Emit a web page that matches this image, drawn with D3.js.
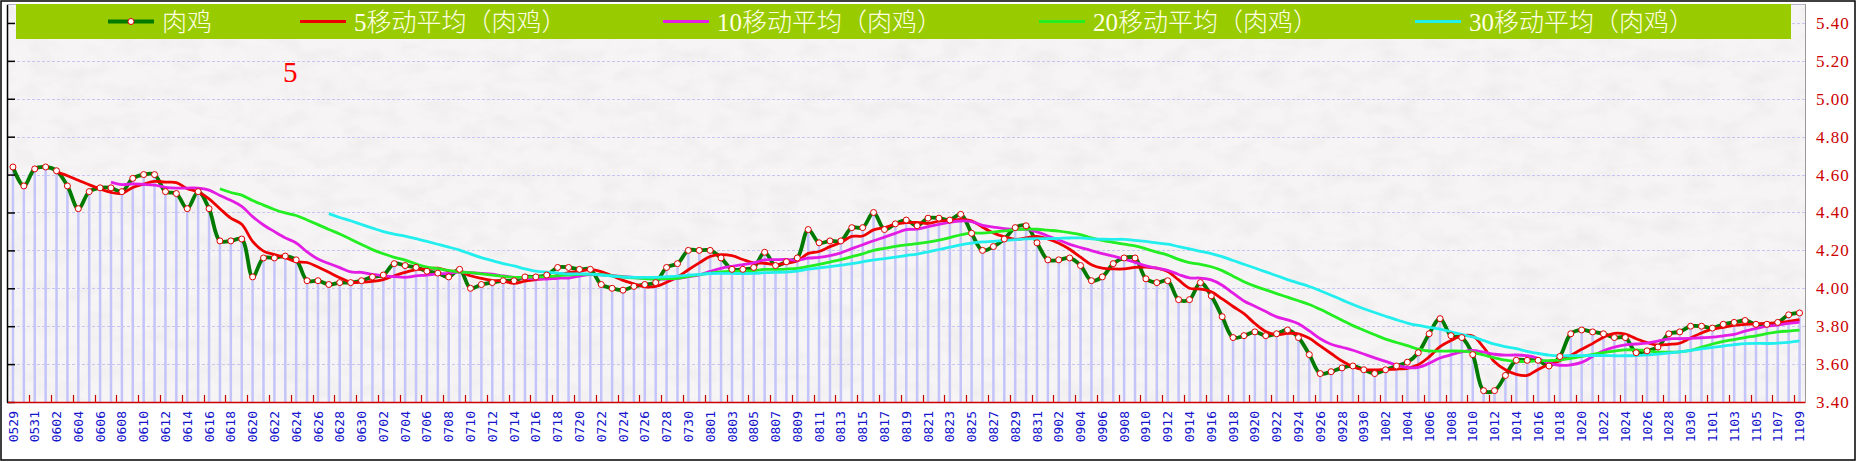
<!DOCTYPE html>
<html>
<head>
<meta charset="utf-8">
<title>肉鸡 移动平均</title>
<script src="https://d3js.org/d3.v7.min.js"></script>
<style>
  body { margin: 0; background: #fff; }
  svg { display: block; }
</style>
</head>
<body>
<div id="chart"></div>
<script>
///////////////////////////////////////////////////////////////////////////////
//////////////////// DATA /////////////////////////////////////////////////////
///////////////////////////////////////////////////////////////////////////////

// one category per calendar day, 0529 .. 1109
var days = [
  "0529","0530","0531",
  "0601","0602","0603","0604","0605","0606","0607","0608","0609","0610",
  "0611","0612","0613","0614","0615","0616","0617","0618","0619","0620",
  "0621","0622","0623","0624","0625","0626","0627","0628","0629","0630",
  "0701","0702","0703","0704","0705","0706","0707","0708","0709","0710",
  "0711","0712","0713","0714","0715","0716","0717","0718","0719","0720",
  "0721","0722","0723","0724","0725","0726","0727","0728","0729","0730","0731",
  "0801","0802","0803","0804","0805","0806","0807","0808","0809","0810",
  "0811","0812","0813","0814","0815","0816","0817","0818","0819","0820",
  "0821","0822","0823","0824","0825","0826","0827","0828","0829","0830","0831",
  "0901","0902","0903","0904","0905","0906","0907","0908","0909","0910",
  "0911","0912","0913","0914","0915","0916","0917","0918","0919","0920",
  "0921","0922","0923","0924","0925","0926","0927","0928","0929","0930",
  "1001","1002","1003","1004","1005","1006","1007","1008","1009","1010",
  "1011","1012","1013","1014","1015","1016","1017","1018","1019","1020",
  "1021","1022","1023","1024","1025","1026","1027","1028","1029","1030","1031",
  "1101","1102","1103","1104","1105","1106","1107","1108","1109"
];

// 肉鸡 daily price
var prices = [
  4.64, 4.54, 4.63,
  4.64, 4.62, 4.54, 4.42, 4.51, 4.53, 4.53, 4.51, 4.58, 4.60,
  4.60, 4.51, 4.50, 4.42, 4.51, 4.42, 4.25, 4.25, 4.26, 4.06,
  4.16, 4.16, 4.17, 4.15, 4.04, 4.04, 4.02, 4.03, 4.03, 4.04,
  4.06, 4.07, 4.13, 4.12, 4.11, 4.09, 4.08, 4.06, 4.10, 4.00,
  4.02, 4.03, 4.04, 4.04, 4.06, 4.06, 4.07, 4.11, 4.11, 4.10,
  4.10, 4.02, 4.00, 3.99, 4.01, 4.02, 4.03, 4.11, 4.13, 4.20, 4.20,
  4.20, 4.16, 4.10, 4.10, 4.11, 4.19, 4.12, 4.14, 4.16, 4.31,
  4.24, 4.25, 4.25, 4.32, 4.32, 4.40, 4.31, 4.34, 4.36, 4.33,
  4.37, 4.37, 4.36, 4.39, 4.29, 4.20, 4.22, 4.26, 4.32, 4.33, 4.24,
  4.15, 4.15, 4.16, 4.12, 4.04, 4.06, 4.13, 4.16, 4.16, 4.05,
  4.03, 4.04, 3.94, 3.94, 4.03, 3.96, 3.85, 3.74, 3.75, 3.77,
  3.75, 3.76, 3.78, 3.74, 3.65, 3.55, 3.56, 3.58, 3.59, 3.57,
  3.55, 3.57, 3.59, 3.61, 3.66, 3.76, 3.84, 3.75, 3.74, 3.65,
  3.46, 3.46, 3.54, 3.62, 3.62, 3.62, 3.59, 3.64, 3.76, 3.78,
  3.77, 3.76, 3.74, 3.74, 3.66, 3.67, 3.69, 3.76, 3.77, 3.80, 3.80,
  3.79, 3.81, 3.82, 3.83, 3.81, 3.81, 3.82, 3.86, 3.87
];

var maWindows = [5, 10, 20, 30];
var maColors  = ["#ee0000", "#e31de3", "#22ee22", "#22eeee"];
var legendLabels = ["肉鸡", "5移动平均（肉鸡）", "10移动平均（肉鸡）", "20移动平均（肉鸡）", "30移动平均（肉鸡）"];
var yTicks = [3.40, 3.60, 3.80, 4.00, 4.20, 4.40, 4.60, 4.80, 5.00, 5.20, 5.40];


///////////////////////////////////////////////////////////////////////////////
//////////////////// CONFIGS //////////////////////////////////////////////////
///////////////////////////////////////////////////////////////////////////////

var width = 1857, height = 462;
var plot = { left: 7, right: 1805, top: 4, bottom: 402 };
var legendX = [108, 300, 663, 1039, 1415];   // left end of each legend swatch

var svg = d3.select("#chart").append("svg")
    .attr("width", width)
    .attr("height", height);

var x = d3.scaleBand()
    .domain(days)
    .range([plot.left + 0.5, plot.right])
    .padding(0);

var y = d3.scaleLinear()
    .domain([3.4, 5.5])
    .range([plot.bottom, plot.top]);

function cx(d) { return x(d) + x.bandwidth() / 2; }

// rolling mean of the price series, null until the window is full
function movingAverage(values, n) {
  return values.map(function(v, i) {
    return i < n - 1 ? null : d3.mean(values.slice(i - n + 1, i + 1));
  });
}

var series = days.map(function(d, i) { return { day: d, value: prices[i] }; });


///////////////////////////////////////////////////////////////////////////////
//////////////////// BACKGROUND + GRID ////////////////////////////////////////
///////////////////////////////////////////////////////////////////////////////

// faint paper grain for the plot area
var defs = svg.append("defs");
var grain = defs.append("filter")
    .attr("id", "paper")
    .attr("x", 0).attr("y", 0).attr("width", "100%").attr("height", "100%");
grain.append("feTurbulence")
    .attr("type", "fractalNoise")
    .attr("baseFrequency", "0.035 0.06")
    .attr("numOctaves", 3)
    .attr("seed", 7);
grain.append("feColorMatrix")
    .attr("values", "0 0 0 0 0.55  0 0 0 0 0.53  0 0 0 0 0.53  0 0 0 -1.6 0.95");

svg.append("rect")
    .attr("x", 0).attr("y", 0)
    .attr("width", width).attr("height", height)
    .attr("fill", "#ffffff");

svg.append("rect")
    .attr("x", plot.left).attr("y", plot.top)
    .attr("width", plot.right - plot.left)
    .attr("height", plot.bottom - plot.top)
    .attr("fill", "#f6f4f4");

svg.append("rect")
    .attr("x", plot.left).attr("y", plot.top)
    .attr("width", plot.right - plot.left)
    .attr("height", plot.bottom - plot.top)
    .attr("filter", "url(#paper)")
    .attr("opacity", 0.18);

svg.append("g")
    .attr("class", "grid")
  .selectAll("line")
  .data(yTicks.slice(1))
  .enter().append("line")
    .attr("x1", plot.left)
    .attr("x2", plot.right)
    .attr("y1", function(d) { return Math.round(y(d)) + 0.5; })
    .attr("y2", function(d) { return Math.round(y(d)) + 0.5; })
    .attr("stroke", "#c6c6f0")
    .attr("stroke-width", 1)
    .attr("stroke-dasharray", "3,2");

// thin bars down to the axis
svg.append("g")
    .attr("class", "bars")
  .selectAll("line")
  .data(series)
  .enter().append("line")
    .attr("x1", function(d) { return cx(d.day); })
    .attr("x2", function(d) { return cx(d.day); })
    .attr("y1", function(d) { return y(d.value); })
    .attr("y2", plot.bottom)
    .attr("stroke", "#c4c4fa")
    .attr("stroke-width", 2.5);


///////////////////////////////////////////////////////////////////////////////
//////////////////// LINES ////////////////////////////////////////////////////
///////////////////////////////////////////////////////////////////////////////

var line = d3.line()
    .defined(function(d) { return d.value != null; })
    .x(function(d) { return cx(d.day); })
    .y(function(d) { return y(d.value); })
    .curve(d3.curveCatmullRom.alpha(0.5));

svg.append("path")
    .datum(series)
    .attr("fill", "none")
    .attr("stroke", "#007a00")
    .attr("stroke-width", 3.8)
    .attr("d", line);

maWindows.forEach(function(n, k) {
  var ma = movingAverage(prices, n);
  var pts = days.map(function(d, i) { return { day: d, value: ma[i] }; });
  svg.append("path")
      .datum(pts)
      .attr("fill", "none")
      .attr("stroke", maColors[k])
      .attr("stroke-width", 2.8)
      .attr("d", line);
});

svg.append("g")
    .attr("class", "markers")
  .selectAll("circle")
  .data(series)
  .enter().append("circle")
    .attr("cx", function(d) { return cx(d.day); })
    .attr("cy", function(d) { return y(d.value); })
    .attr("r", 3)
    .attr("fill", "#ffffff")
    .attr("stroke", "#e00000")
    .attr("stroke-width", 1);


///////////////////////////////////////////////////////////////////////////////
//////////////////// AXES /////////////////////////////////////////////////////
///////////////////////////////////////////////////////////////////////////////

// left: black line, short ticks pointing into the plot
var leftAxis = svg.append("g")
    .attr("transform", "translate(" + plot.left + ",0)")
    .call(d3.axisRight(y).tickValues(yTicks).tickSize(8).tickSizeOuter(0).tickFormat(""));
leftAxis.select(".domain").attr("stroke", "#000").attr("stroke-width", 1.5);
leftAxis.selectAll(".tick line").attr("stroke", "#000").attr("stroke-width", 1.5);

// top and right plot border
svg.append("line")
    .attr("x1", plot.left).attr("x2", plot.right)
    .attr("y1", plot.top + 0.5).attr("y2", plot.top + 0.5)
    .attr("stroke", "#b4b4cc");
svg.append("line")
    .attr("x1", plot.right + 0.5).attr("x2", plot.right + 0.5)
    .attr("y1", plot.top).attr("y2", plot.bottom)
    .attr("stroke", "#9a9a9a");

// right: red value labels
var rightAxis = svg.append("g")
    .attr("transform", "translate(" + plot.right + ",0)")
    .call(d3.axisRight(y).tickValues(yTicks).tickSize(0).tickPadding(11).tickFormat(d3.format(".2f")));
rightAxis.select(".domain").remove();
rightAxis.selectAll("text")
    .attr("fill", "#cc0000")
    .style("font-family", "'Liberation Serif', serif")
    .style("font-size", "17px")
    .style("letter-spacing", "1px");

// bottom: every second day, rotated
var labelDays = days.filter(function(d, i) { return i % 2 === 0; });
var bottomAxis = svg.append("g")
    .attr("transform", "translate(0," + plot.bottom + ")")
    .call(d3.axisBottom(x).tickValues(labelDays).tickSize(0).tickSizeOuter(0));
bottomAxis.select(".domain").attr("stroke", "#cc0000").attr("stroke-width", 1.5);
bottomAxis.selectAll("text")
    .attr("y", 0)
    .attr("x", -9)
    .attr("dy", "0.35em")
    .attr("transform", "rotate(-90)")
    .style("text-anchor", "end")
    .attr("fill", "#1414cc")
    .style("font-family", "'DejaVu Sans Mono', monospace")
    .style("font-size", "13px");

// red ticks between label pairs
svg.append("g")
    .attr("class", "xticks")
  .selectAll("line")
  .data(days.filter(function(d, i) { return i % 2 === 1 && i < days.length - 1; }))
  .enter().append("line")
    .attr("x1", function(d) { return Math.round(x(d) + x.bandwidth()) + 0.5; })
    .attr("x2", function(d) { return Math.round(x(d) + x.bandwidth()) + 0.5; })
    .attr("y1", plot.bottom)
    .attr("y2", plot.bottom - 7)
    .attr("stroke", "#cc0000")
    .attr("stroke-width", 1.2);


///////////////////////////////////////////////////////////////////////////////
//////////////////// LEGEND ///////////////////////////////////////////////////
///////////////////////////////////////////////////////////////////////////////

svg.append("rect")
    .attr("x", 16).attr("y", 4)
    .attr("width", 1775).attr("height", 35)
    .attr("fill", "#99cc00");

var legendColors = ["#007a00"].concat(maColors);
var legend = svg.append("g")
    .attr("class", "legend")
  .selectAll("g")
  .data(legendLabels)
  .enter().append("g")
    .attr("transform", function(d, i) { return "translate(" + legendX[i] + ",21.5)"; });

legend.append("line")
    .attr("x1", 0).attr("x2", 46)
    .attr("stroke", function(d, i) { return legendColors[i]; })
    .attr("stroke-width", function(d, i) { return i === 0 ? 3.8 : 2.8; });

legend.filter(function(d, i) { return i === 0; })
  .append("circle")
    .attr("cx", 23).attr("r", 3)
    .attr("fill", "#fff")
    .attr("stroke", "#e00000");

legend.append("text")
    .attr("x", 54)
    .attr("dy", "0.36em")
    .attr("fill", "#ffffe6")
    .style("font-family", "'Liberation Serif', 'Noto Sans CJK SC', serif")
    .style("font-size", "25px")
    .style("font-weight", 300)
    .text(function(d) { return d; });

// stray red marker text
svg.append("text")
    .attr("x", 283).attr("y", 82)
    .attr("fill", "#ff0000")
    .style("font-family", "'Liberation Serif', serif")
    .style("font-size", "29px")
    .text("5");

// outer frame
svg.append("rect")
    .attr("x", 1).attr("y", 1)
    .attr("width", width - 3).attr("height", height - 3)
    .attr("fill", "none")
    .attr("stroke", "#000")
    .attr("stroke-width", 1.5);
</script>
</body>
</html>
